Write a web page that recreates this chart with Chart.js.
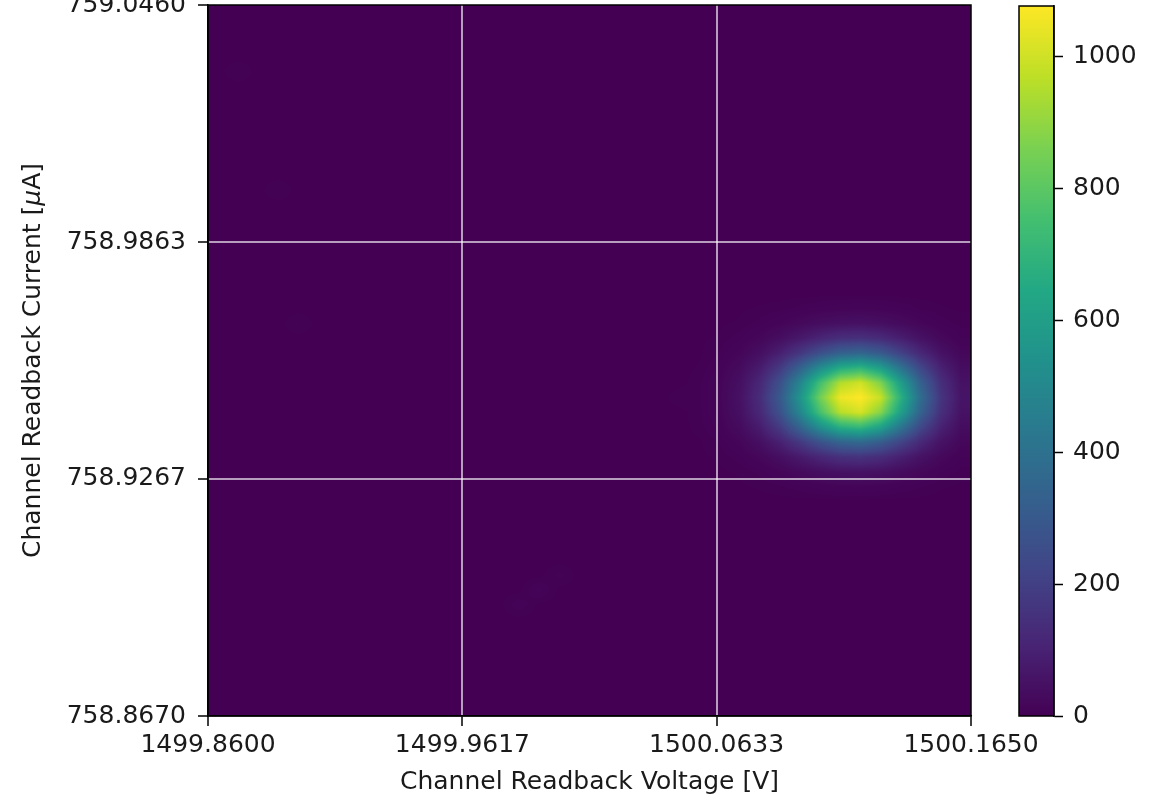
<!DOCTYPE html>
<html>
<head>
<meta charset="utf-8">
<script src="https://cdn.jsdelivr.net/npm/chart.js@4.4.1/dist/chart.umd.min.js"></script>
<style>
html, body { margin: 0; padding: 0; background: #ffffff; }
#wrap { position: relative; width: 1175px; height: 801px; overflow: hidden; }
#wrap canvas { position: absolute; left: 0; top: 0; }
</style>
</head>
<body>
<div id="wrap">
  <canvas id="main" width="1175" height="801"></canvas>
  <canvas id="cbar" width="1175" height="801"></canvas>
</div>
<script>
// ---------------- data ----------------
const xTicks = [1499.8600, 1499.9617, 1500.0633, 1500.1650];   // Channel Readback Voltage [V]
const yTicks = [758.8670, 758.9267, 758.9863, 759.0460];       // Channel Readback Current [uA]
const colorTicks = [0, 200, 400, 600, 800, 1000];

const xTitle = "Channel Readback Voltage [V]";
const yTitleParts = ["Channel Readback Current [", "\u03BC", "A]"];

// histogram binning
const nVoltBins = 38;
const nCurrBins = 48;

// counts in the populated block (rows: ascending current bins starting at blobFirstCurrBin,
// columns: ascending voltage bins starting at blobFirstVoltBin)
const blobFirstVoltBin = 24;
const blobFirstCurrBin = 15;
const blobCounts = [
  [0, 0, 1, 2, 4, 7, 10, 13, 14, 12, 8, 5, 2, 1],
  [0, 1, 2, 6, 14, 26, 39, 50, 53, 46, 32, 18, 8, 3],
  [1, 2, 7, 19, 42, 77, 117, 149, 157, 136, 94, 52, 23, 8],
  [1, 5, 17, 44, 97, 178, 272, 346, 366, 316, 219, 122, 54, 20],
  [3, 10, 32, 84, 185, 345, 530, 675, 715, 615, 420, 230, 100, 36],
  [4, 14, 45, 120, 268, 495, 760, 960, 1010, 880, 610, 335, 145, 52],
  [4, 15, 50, 135, 300, 555, 845, 1050, 1077, 985, 685, 378, 165, 59],
  [4, 14, 44, 118, 263, 487, 748, 950, 1000, 868, 600, 330, 143, 52],
  [2, 9, 31, 81, 180, 335, 515, 655, 695, 598, 408, 225, 99, 36],
  [1, 5, 16, 42, 93, 170, 260, 331, 350, 302, 209, 117, 52, 19],
  [1, 2, 7, 18, 39, 72, 110, 140, 148, 128, 89, 49, 22, 8],
  [0, 1, 2, 6, 13, 24, 37, 46, 49, 42, 29, 16, 7, 3],
  [0, 0, 1, 2, 3, 6, 9, 12, 13, 11, 8, 4, 2, 1]
];
// a few faint isolated bins elsewhere: [voltBin, currBin, count]
const faintCells = [
  [16, 8, 10], [15, 7, 8], [17, 9, 6], [1, 43, 5], [3, 35, 5], [4, 26, 5], [23, 21, 4]
];

// ---------------- build table ----------------
const voltMin = xTicks[0], voltMax = xTicks[xTicks.length - 1];
const currMin = yTicks[0], currMax = yTicks[yTicks.length - 1];
const voltStep = (voltMax - voltMin) / nVoltBins;
const currStep = (currMax - currMin) / nCurrBins;

const grid = [];
for (let j = 0; j < nCurrBins; j++) grid.push(new Array(nVoltBins).fill(0));
blobCounts.forEach((row, r) => row.forEach((c, k) => {
  grid[blobFirstCurrBin + r][blobFirstVoltBin + k] = c;
}));
faintCells.forEach(([i, j, c]) => { grid[j][i] = c; });

let vmax = 0;
grid.forEach(row => row.forEach(c => { if (c > vmax) vmax = c; }));

// ---------------- viridis ----------------
const viridisStops = [
  [68, 1, 84], [72, 36, 117], [65, 68, 135], [53, 95, 141], [42, 120, 142],
  [33, 145, 140], [34, 168, 132], [68, 191, 112], [122, 209, 81], [189, 223, 38], [253, 231, 37]
];
function viridis(t) {
  t = Math.min(1, Math.max(0, t));
  const s = t * (viridisStops.length - 1);
  const i = Math.min(viridisStops.length - 2, Math.floor(s));
  const f = s - i;
  const a = viridisStops[i], b = viridisStops[i + 1];
  return [a[0] + (b[0] - a[0]) * f, a[1] + (b[1] - a[1]) * f, a[2] + (b[2] - a[2]) * f];
}

function cell(i, j) {
  i = Math.min(nVoltBins - 1, Math.max(0, i));
  j = Math.min(nCurrBins - 1, Math.max(0, j));
  return grid[j][i];
}
// bilinear (imshow-like) sampling of the bin table at a data position
function sample(volt, curr) {
  const u = (volt - voltMin) / voltStep - 0.5;
  const v = (curr - currMin) / currStep - 0.5;
  const i0 = Math.floor(u), j0 = Math.floor(v);
  const fu = u - i0, fv = v - j0;
  const a = cell(i0, j0), b = cell(i0 + 1, j0), c = cell(i0, j0 + 1), d = cell(i0 + 1, j0 + 1);
  return (a * (1 - fu) + b * fu) * (1 - fv) + (c * (1 - fu) + d * fu) * fv;
}

const FONT = "'DejaVu Sans', 'Liberation Sans', sans-serif";
const FSIZE = 25;
const TEXT = '#1a1a1a';

// ---------------- plugins ----------------
let heatCache = null;
const heatmapPlugin = {
  id: 'heatmap',
  beforeDatasetsDraw(chart) {
    const { ctx, chartArea: ca, scales: { x, y } } = chart;
    const x0 = x.getPixelForValue(voltMin), x1 = x.getPixelForValue(voltMax);
    const y0 = y.getPixelForValue(currMax), y1 = y.getPixelForValue(currMin);
    const W = Math.round(x1 - x0), H = Math.round(y1 - y0);
    if (!heatCache || heatCache.width !== W || heatCache.height !== H) {
      const off = document.createElement('canvas');
      off.width = W; off.height = H;
      const octx = off.getContext('2d');
      const img = octx.createImageData(W, H);
      for (let py = 0; py < H; py++) {
        const curr = y.getValueForPixel(y0 + py + 0.5);
        for (let px = 0; px < W; px++) {
          const volt = x.getValueForPixel(x0 + px + 0.5);
          const col = viridis(sample(volt, curr) / vmax);
          const o = (py * W + px) * 4;
          img.data[o] = col[0]; img.data[o + 1] = col[1]; img.data[o + 2] = col[2]; img.data[o + 3] = 255;
        }
      }
      octx.putImageData(img, 0, 0);
      heatCache = off;
    }
    ctx.save();
    ctx.beginPath();
    ctx.rect(ca.left, ca.top, ca.width, ca.height);
    ctx.clip();
    ctx.drawImage(heatCache, x0, y0, x1 - x0, y1 - y0);
    ctx.restore();
  }
};

const framePlugin = {
  id: 'frame',
  afterDraw(chart) {
    const { ctx, chartArea: ca } = chart;
    ctx.save();
    ctx.strokeStyle = '#000';
    ctx.lineWidth = 1.5;
    ctx.strokeRect(ca.left, ca.top, ca.width, ca.height);
    ctx.restore();
  }
};

const titlesPlugin = {
  id: 'titles',
  afterDraw(chart) {
    const { ctx, chartArea: ca } = chart;
    ctx.save();
    ctx.fillStyle = TEXT;
    ctx.textBaseline = 'middle';
    ctx.font = FSIZE + 'px ' + FONT;
    ctx.textAlign = 'center';
    ctx.fillText(xTitle, (ca.left + ca.right) / 2, 782);
    // y title with italic mu
    const fonts = [FSIZE + 'px ' + FONT, 'italic ' + FSIZE + 'px ' + FONT, FSIZE + 'px ' + FONT];
    const widths = yTitleParts.map((t, i) => { ctx.font = fonts[i]; return ctx.measureText(t).width; });
    const total = widths.reduce((a, b) => a + b, 0);
    ctx.translate(33, (ca.top + ca.bottom) / 2);
    ctx.rotate(-Math.PI / 2);
    ctx.textAlign = 'left';
    let cx = -total / 2;
    yTitleParts.forEach((t, i) => { ctx.font = fonts[i]; ctx.fillText(t, cx, 0); cx += widths[i]; });
    ctx.restore();
  }
};

const colorbarPlugin = {
  id: 'colorbar',
  beforeDatasetsDraw(chart) {
    const { ctx, chartArea: ca, scales: { y } } = chart;
    ctx.save();
    for (let py = Math.floor(ca.top); py < Math.ceil(ca.bottom); py++) {
      const v = y.getValueForPixel(py + 0.5);
      const c = viridis(v / vmax);
      ctx.fillStyle = 'rgb(' + c.map(Math.round).join(',') + ')';
      ctx.fillRect(ca.left, py, ca.width, 1);
    }
    ctx.restore();
  },
  afterDraw(chart) {
    const { ctx, chartArea: ca } = chart;
    ctx.save();
    ctx.strokeStyle = '#000';
    ctx.lineWidth = 1.5;
    ctx.strokeRect(ca.left, ca.top, ca.width, ca.height);
    ctx.restore();
  }
};

function innerGridColor(c, n) {
  return (c.index === 0 || c.index === n - 1) ? 'rgba(0,0,0,0)' : 'rgba(255,255,255,0.62)';
}

// ---------------- main chart ----------------
new Chart(document.getElementById('main'), {
  type: 'scatter',
  data: { datasets: [{ data: [], pointRadius: 0 }] },
  options: {
    responsive: false,
    animation: false,
    events: [],
    layout: { padding: { left: 0, top: 5, right: 1175 - 971, bottom: 0 } },
    plugins: { legend: { display: false }, tooltip: { enabled: false } },
    scales: {
      x: {
        type: 'linear', min: voltMin, max: voltMax,
        afterBuildTicks: s => { s.ticks = xTicks.map(v => ({ value: v })); },
        afterFit: s => { s.height = 801 - 716; s.paddingLeft = 0; s.paddingRight = 0; },
        ticks: { callback: v => Number(v).toFixed(4), font: { family: FONT, size: FSIZE }, color: TEXT, padding: 4, maxRotation: 0, autoSkip: false, z: 2 },
        grid: { z: 1, color: c => innerGridColor(c, xTicks.length), lineWidth: 2, tickColor: '#000', tickLength: 10, tickWidth: 1.5 },
        border: { display: true, color: '#000', width: 1.5, z: 2 }
      },
      y: {
        type: 'linear', min: currMin, max: currMax,
        afterBuildTicks: s => { s.ticks = yTicks.map(v => ({ value: v })); },
        afterFit: s => { s.width = 208; s.paddingTop = 0; s.paddingBottom = 0; },
        ticks: { callback: v => Number(v).toFixed(4), font: { family: FONT, size: FSIZE }, color: TEXT, padding: 12, autoSkip: false, z: 2 },
        grid: { z: 1, color: c => innerGridColor(c, yTicks.length), lineWidth: 2, tickColor: '#000', tickLength: 10, tickWidth: 1.5 },
        border: { display: true, color: '#000', width: 1.5, z: 2 }
      }
    }
  },
  plugins: [heatmapPlugin, framePlugin, titlesPlugin]
});

// ---------------- colorbar ----------------
new Chart(document.getElementById('cbar'), {
  type: 'scatter',
  data: { datasets: [{ data: [], pointRadius: 0 }] },
  options: {
    responsive: false,
    animation: false,
    events: [],
    layout: { padding: { left: 1019, top: 6, right: 0, bottom: 801 - 716 } },
    plugins: { legend: { display: false }, tooltip: { enabled: false } },
    scales: {
      x: { display: false, min: 0, max: 1 },
      y: {
        position: 'right', min: 0, max: vmax,
        afterBuildTicks: s => { s.ticks = colorTicks.map(v => ({ value: v })); },
        afterFit: s => { s.width = 1175 - 1054; s.paddingTop = 0; s.paddingBottom = 0; },
        ticks: { callback: v => String(v), font: { family: FONT, size: FSIZE }, color: TEXT, padding: 10, autoSkip: false, z: 2 },
        grid: { z: 1, drawOnChartArea: false, tickColor: '#000', tickLength: 9, tickWidth: 1.5 },
        border: { display: true, color: '#000', width: 1.5, z: 2 }
      }
    }
  },
  plugins: [colorbarPlugin]
});
</script>
</body>
</html>
